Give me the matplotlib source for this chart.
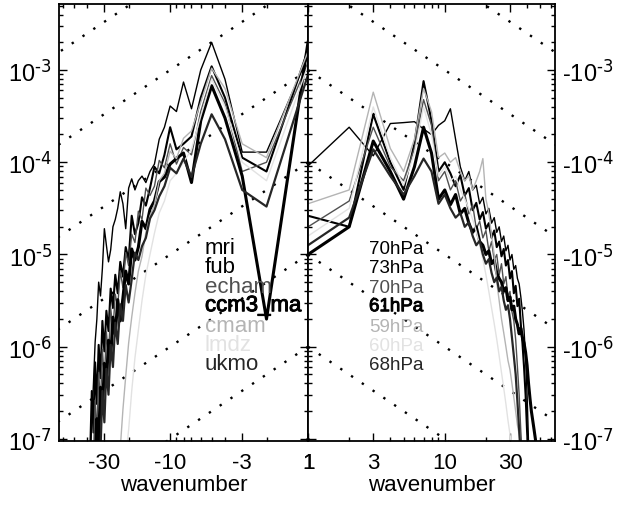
import numpy as np
import matplotlib
matplotlib.use("Agg")
import matplotlib.pyplot as plt
import matplotlib.patheffects as pe
from matplotlib.ticker import FixedLocator, FixedFormatter, LogLocator, NullFormatter

plt.rcParams['font.family'] = ['Liberation Sans', 'DejaVu Sans']
plt.rcParams['mathtext.default'] = 'regular'

# model names, analysis levels and line styles
models = ["mri", "fub", "echam", "ccm3_ma", "cmam", "lmdz", "ukmo"]
levels = ["70hPa", "73hPa", "70hPa", "61hPa", "59hPa", "60hPa", "68hPa"]
colors = ["#000000", "#000000", "#505050", "#000000", "#b4b4b4", "#e2e2e2", "#262626"]
widths = [1.0, 1.5, 1.0, 2.2, 1.0, 1.0, 1.6]
heavy = [False, False, False, True, False, False, False]

# log10 spectral power, westward wavenumbers |k| = 1, 2, 3, ...
mri_west = [-2.85, -3.89, -3.89, -3.10, -2.70, -3.00, -3.42, -3.13, -3.45, -3.39,
            -3.62, -3.75, -4.02, -4.10, -4.22, -4.15, -4.20, -4.30, -4.18, -4.28,
            -4.72, -4.45, -4.32, -4.50, -4.62, -4.70, -4.95, -5.08, -4.90, -4.72,
            -5.15, -5.45, -5.30, -5.70, -5.95, -6.40, -6.80, -7.20]
fub_west = [-2.78, -4.10, -3.95, -3.30, -2.96, -3.30, -3.72, -3.80, -3.86, -3.62,
            -3.92, -4.12, -4.05, -4.28, -4.47, -4.38, -4.66, -4.78, -4.58, -5.06,
            -4.92, -5.24, -5.08, -5.42, -5.22, -5.58, -5.37, -5.83, -5.61, -6.05,
            -5.72, -6.34, -5.98, -6.62, -6.17, -6.93, -6.48, -7.15]
echam_west = [-2.92, -4.00, -4.10, -3.36, -3.06, -3.45, -3.92, -3.84, -4.02, -3.80,
              -4.06, -3.98, -4.26, -4.36, -4.28, -4.62, -4.53, -4.87, -4.78, -5.12,
              -4.98, -5.36, -5.18, -5.57, -5.43, -5.82, -5.58, -6.12, -5.84, -6.37,
              -6.03, -6.62, -6.28, -6.93, -6.58, -7.20]
ccm3_west = [-2.70, -5.70, -4.15, -3.52, -3.17, -3.55, -4.22, -3.90, -3.96, -4.02,
             -4.16, -4.21, -4.42, -4.51, -4.72, -4.64, -4.92, -5.06, -4.94, -5.32,
             -5.18, -5.47, -5.72, -5.49, -5.87, -5.68, -6.12, -5.93, -6.42, -6.18,
             -6.72, -6.44, -7.02, -6.78, -7.20]
cmam_west = [-2.80, -3.95, -3.80, -3.20, -2.98, -3.35, -3.66, -3.74, -3.96, -3.88,
             -4.12, -4.20, -4.46, -4.58, -4.76, -5.02, -5.18, -5.42, -5.68, -5.96,
             -6.32, -6.68, -7.10]
lmdz_west = [-2.95, -4.20, -4.00, -3.40, -3.10, -3.50, -3.86, -4.00, -4.12, -4.20,
             -4.42, -4.55, -4.77, -5.00, -5.22, -5.50, -5.82, -6.12, -6.48, -6.90,
             -7.20]
ukmo_west = [-3.05, -4.48, -4.30, -3.75, -3.48, -3.80, -4.16, -3.96, -4.12, -4.06,
             -4.26, -4.37, -4.52, -4.61, -4.82, -4.91, -5.06, -4.98, -5.27, -5.52,
             -5.33, -5.72, -5.54, -5.97, -5.74, -6.22, -5.98, -6.52, -6.24, -6.82,
             -6.48, -7.12]

# log10 spectral power, eastward wavenumbers k = 1, 2, 3, ...
mri_east = [-4.04, -3.62, -3.93, -3.58, -3.57, -3.56, -3.64, -3.70, -3.60, -3.55,
            -3.42, -3.75, -4.05, -4.20, -4.10, -4.30, -4.25, -4.45, -4.38, -4.56,
            -4.50, -4.66, -4.60, -4.76, -4.70, -4.86, -4.80, -4.96, -4.90, -5.06,
            -5.00, -5.16, -5.12, -5.26, -5.32, -5.46, -5.62, -5.82, -6.12, -6.52,
            -7.05]
fub_east = [-4.58, -4.70, -3.48, -4.00, -4.30, -3.80, -3.12, -3.55, -4.10, -4.00,
            -4.12, -4.26, -4.14, -4.36, -4.28, -4.52, -4.44, -4.62, -4.54, -4.72,
            -4.66, -4.82, -4.74, -4.92, -4.86, -5.02, -4.94, -5.12, -5.06, -5.26,
            -5.18, -5.42, -5.34, -5.56, -5.48, -5.76, -5.96, -6.22, -6.52, -6.92,
            -7.22]
echam_east = [-4.70, -4.42, -3.62, -4.05, -4.20, -3.85, -3.32, -3.60, -4.20, -4.10,
              -4.30, -4.20, -4.42, -4.34, -4.56, -4.46, -4.72, -4.64, -4.82, -4.74,
              -4.96, -4.86, -5.06, -5.00, -5.22, -5.10, -5.32, -5.24, -5.46, -5.40,
              -5.62, -5.72, -5.92, -6.22, -6.52, -6.92, -7.22]
ccm3_east = [-5.00, -4.70, -3.77, -4.10, -4.40, -4.05, -3.62, -3.90, -4.40, -4.30,
             -4.46, -4.35, -4.56, -4.50, -4.66, -4.76, -4.70, -4.86, -4.90, -5.00,
             -4.96, -5.10, -5.06, -5.20, -5.26, -5.30, -5.40, -5.36, -5.50, -5.46,
             -5.60, -5.56, -5.70, -5.76, -5.86, -5.80, -5.90, -5.96, -6.06, -6.20,
             -6.40, -6.56, -6.70, -6.80, -6.90, -7.00, -7.12]
cmam_east = [-4.45, -4.30, -3.24, -3.85, -4.10, -3.75, -3.20, -3.45, -3.95, -3.90,
             -4.00, -3.95, -4.10, -4.20, -4.15, -4.30, -4.20, -4.10, -3.96, -4.40,
             -4.55, -4.80, -5.00, -5.30, -5.50, -5.70, -5.85, -6.00, -6.15, -6.25,
             -6.40, -6.55, -6.70, -6.85, -6.95, -7.15]
lmdz_east = [-4.80, -4.50, -3.40, -3.95, -4.25, -3.90, -3.40, -3.70, -4.15, -4.05,
             -4.20, -4.15, -4.30, -4.40, -4.50, -4.62, -4.75, -4.90, -5.05, -5.22,
             -5.40, -5.58, -5.75, -5.92, -6.10, -6.28, -6.45, -6.62, -6.80, -6.95,
             -7.10, -7.25]
ukmo_east = [-4.90, -4.60, -3.86, -4.15, -4.35, -4.15, -3.96, -4.10, -4.45, -4.35,
             -4.50, -4.60, -4.55, -4.70, -4.65, -4.80, -4.90, -4.85, -5.00, -5.10,
             -5.05, -5.20, -5.30, -5.25, -5.40, -5.35, -5.50, -5.60, -5.55, -5.70,
             -5.90, -6.10, -6.30, -6.60, -6.90, -7.20]

west = [mri_west, fub_west, echam_west, ccm3_west, cmam_west, lmdz_west, ukmo_west]
east = [mri_east, fub_east, echam_east, ccm3_east, cmam_east, lmdz_east, ukmo_east]

# reference slopes: power ~ C / |k|
guide_levels = [1e-1, 1e-2, 1e-3, 1e-4, 1e-5, 1e-6, 1e-7]

W, H = 619, 506
fig = plt.figure(figsize=(W / 100, H / 100), dpi=100)
axw = fig.add_axes([59 / W, 1 - 442 / H, 249 / W, 437 / H])
axe = fig.add_axes([308 / W, 1 - 442 / H, 247 / W, 437 / H])

kk = np.geomspace(1, 70, 200)
for ax in (axw, axe):
    ax.set_xscale("log")
    ax.set_yscale("log")
    for c in guide_levels:
        ax.plot(kk, c / kk, color="black", lw=1.7, linestyle=(0, (1, 4.5)), zorder=1)

for vals, col, lw in zip(west, colors, widths):
    k = np.arange(1, len(vals) + 1)
    axw.plot(k, 10.0 ** np.array(vals), color=col, lw=lw, zorder=2)
for vals, col, lw in zip(east, colors, widths):
    k = np.arange(1, len(vals) + 1)
    axe.plot(k, 10.0 ** np.array(vals), color=col, lw=lw, zorder=2)

ylo, yhi = 9.5e-8, 5.2e-3
axw.set_xlim(64, 1)
axe.set_xlim(1, 64)

decades = [1e-7, 1e-6, 1e-5, 1e-4, 1e-3]
exps = [-7, -6, -5, -4, -3]
minor_x = [2, 4, 5, 6, 7, 8, 9, 20, 40, 50, 60]
for ax in (axw, axe):
    ax.set_ylim(ylo, yhi)
    ax.yaxis.set_major_locator(FixedLocator(decades))
    ax.yaxis.set_minor_locator(LogLocator(base=10, subs=np.arange(2, 10)))
    ax.yaxis.set_minor_formatter(NullFormatter())
    ax.xaxis.set_major_locator(FixedLocator([1, 3, 10, 30]))
    ax.xaxis.set_minor_locator(FixedLocator(minor_x))
    ax.xaxis.set_minor_formatter(NullFormatter())
    ax.tick_params(which="both", direction="in", top=True, bottom=True,
                   left=True, right=True, width=1.0)
    ax.tick_params(which="major", length=6)
    ax.tick_params(which="minor", length=3)
    ax.tick_params(axis="x", labelsize=16, pad=8)
    ax.tick_params(axis="y", labelsize=17)
    for s in ax.spines.values():
        s.set_linewidth(1.3)
    ax.set_xlabel("wavenumber", fontsize=16, labelpad=1)

axw.xaxis.set_major_formatter(FixedFormatter(["1", "-3", "-10", "-30"]))
axe.xaxis.set_major_formatter(FixedFormatter(["1", "3", "10", "30"]))
axw.yaxis.set_major_formatter(FixedFormatter([r"10$^{\text{%d}}$" % e for e in exps]))
axw.tick_params(axis="y", labelleft=True, labelright=False, pad=5)
axe.yaxis.set_major_formatter(FixedFormatter([r"-10$^{\text{%d}}$" % e for e in exps]))
axe.tick_params(axis="y", labelleft=False, labelright=True, pad=5)

# model and level annotations
y0, dy = 254, 19.4
for i, (name, lev, col, hv) in enumerate(zip(models, levels, colors, heavy)):
    yb = 1 - (y0 + i * dy) / H
    effects = [pe.withStroke(linewidth=0.7, foreground=col)] if hv else None
    fig.text(205 / W, yb, name, color=col, fontsize=16, va="baseline", ha="left",
             path_effects=effects)
    fig.text(369 / W, yb, lev, color=col, fontsize=13.5, va="baseline", ha="left",
             path_effects=effects)

fig.savefig("out.png", dpi=100)
